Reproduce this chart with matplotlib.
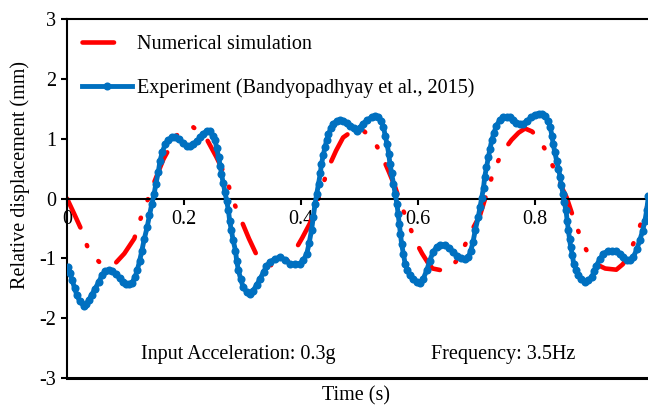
import matplotlib
matplotlib.use("Agg")
import matplotlib.pyplot as plt
from matplotlib.lines import Line2D

plt.rcParams['font.family'] = ['Liberation Serif', 'DejaVu Serif']
plt.rcParams['axes.unicode_minus'] = False
plt.rcParams['lines.scale_dashes'] = False

# Numerical simulation (s, mm)
time_num = [0.000, 0.012, 0.025, 0.035, 0.045, 0.055, 0.068, 0.082, 0.098, 0.115,
            0.126, 0.138, 0.149, 0.165, 0.187, 0.202, 0.216, 0.228, 0.239, 0.255,
            0.271, 0.277, 0.287, 0.299, 0.311, 0.323, 0.340, 0.355, 0.371, 0.389,
            0.402, 0.415, 0.431, 0.447, 0.460, 0.472, 0.488, 0.505, 0.524, 0.538,
            0.550, 0.561, 0.571, 0.583, 0.595, 0.607, 0.618, 0.625, 0.640, 0.655,
            0.665, 0.675, 0.686, 0.706, 0.718, 0.730, 0.744, 0.760, 0.772, 0.783,
            0.795, 0.808, 0.823, 0.836, 0.845, 0.854, 0.868, 0.880, 0.893, 0.905,
            0.920, 0.939, 0.950, 0.960, 0.972, 0.985, 1.000]
disp_num = [0.00, -0.25, -0.53, -0.81, -0.96, -1.06, -1.12, -1.09, -0.92, -0.67,
            -0.33, -0.02, 0.27, 0.66, 1.05, 1.17, 1.19, 1.10, 0.99, 0.70,
            0.38, 0.19, -0.11, -0.39, -0.67, -0.92, -1.08, -1.14, -1.13, -0.88,
            -0.66, -0.42, 0.03, 0.52, 0.80, 1.02, 1.13, 1.15, 0.98, 0.72,
            0.45, 0.19, -0.11, -0.40, -0.70, -0.92, -1.09, -1.17, -1.20, -1.17,
            -1.05, -0.91, -0.64, -0.28, 0.10, 0.48, 0.77, 0.98, 1.10, 1.17,
            1.12, 0.98, 0.72, 0.41, 0.20, 0.02, -0.39, -0.70, -0.97, -1.10,
            -1.17, -1.19, -1.10, -0.95, -0.66, -0.31, 0.08]

# Experiment, Bandyopadhyay et al. (2015) (s, mm)
time_exp = [0.002, 0.005, 0.009, 0.013, 0.017, 0.022, 0.029, 0.033, 0.037, 0.042,
            0.048, 0.054, 0.060, 0.065, 0.071, 0.077, 0.083, 0.090, 0.095, 0.100,
            0.106, 0.111, 0.116, 0.120, 0.124, 0.128, 0.132, 0.137, 0.141, 0.145,
            0.149, 0.152, 0.156, 0.159, 0.163, 0.168, 0.173, 0.179, 0.185, 0.191,
            0.198, 0.205, 0.210, 0.216, 0.222, 0.228, 0.233, 0.239, 0.244, 0.249,
            0.253, 0.256, 0.259, 0.262, 0.264, 0.267, 0.270, 0.273, 0.276, 0.278,
            0.281, 0.284, 0.288, 0.290, 0.293, 0.297, 0.301, 0.307, 0.313, 0.318,
            0.324, 0.330, 0.336, 0.341, 0.347, 0.355, 0.364, 0.372, 0.381, 0.390,
            0.398, 0.404, 0.410, 0.414, 0.418, 0.421, 0.424, 0.427, 0.430, 0.433,
            0.435, 0.438, 0.441, 0.444, 0.447, 0.451, 0.455, 0.461, 0.467, 0.472,
            0.478, 0.484, 0.490, 0.495, 0.500, 0.506, 0.513, 0.521, 0.527, 0.532,
            0.537, 0.541, 0.544, 0.547, 0.550, 0.552, 0.555, 0.558, 0.561, 0.564,
            0.566, 0.568, 0.570, 0.572, 0.575, 0.578, 0.582, 0.586, 0.592, 0.598,
            0.603, 0.609, 0.615, 0.620, 0.626, 0.632, 0.638, 0.646, 0.653, 0.660,
            0.667, 0.674, 0.680, 0.686, 0.690, 0.694, 0.698, 0.703, 0.706, 0.709,
            0.712, 0.714, 0.717, 0.720, 0.723, 0.726, 0.730, 0.734, 0.740, 0.746,
            0.752, 0.757, 0.762, 0.768, 0.774, 0.780, 0.787, 0.794, 0.800, 0.806,
            0.812, 0.817, 0.822, 0.826, 0.829, 0.831, 0.834, 0.837, 0.840, 0.843,
            0.845, 0.848, 0.850, 0.853, 0.855, 0.857, 0.859, 0.861, 0.864, 0.866,
            0.870, 0.874, 0.879, 0.885, 0.891, 0.897, 0.901, 0.905, 0.911, 0.917,
            0.924, 0.931, 0.938, 0.945, 0.951, 0.957, 0.962, 0.968, 0.974, 0.979,
            0.984, 0.988, 0.991, 0.994]
disp_exp = [-1.14, -1.25, -1.37, -1.50, -1.62, -1.72, -1.80, -1.77, -1.70, -1.61,
            -1.51, -1.40, -1.28, -1.22, -1.19, -1.21, -1.26, -1.33, -1.39, -1.43,
            -1.43, -1.41, -1.32, -1.20, -1.05, -0.87, -0.68, -0.48, -0.28, -0.09,
            0.08, 0.25, 0.44, 0.63, 0.78, 0.91, 0.98, 1.02, 1.02, 1.00,
            0.93, 0.88, 0.88, 0.91, 0.96, 1.02, 1.08, 1.13, 1.12, 1.05,
            0.97, 0.84, 0.69, 0.55, 0.41, 0.26, 0.11, -0.05, -0.20, -0.37,
            -0.53, -0.70, -0.87, -1.04, -1.20, -1.35, -1.48, -1.56, -1.60, -1.54,
            -1.45, -1.34, -1.23, -1.13, -1.06, -1.01, -0.98, -1.02, -1.09, -1.10,
            -1.09, -1.03, -0.92, -0.74, -0.53, -0.31, -0.09, 0.08, 0.25, 0.42,
            0.58, 0.72, 0.86, 0.98, 1.08, 1.17, 1.25, 1.29, 1.31, 1.30,
            1.26, 1.22, 1.17, 1.13, 1.18, 1.25, 1.31, 1.36, 1.38, 1.37,
            1.30, 1.19, 1.05, 0.91, 0.75, 0.58, 0.42, 0.25, 0.08, -0.09,
            -0.26, -0.42, -0.59, -0.76, -0.93, -1.09, -1.20, -1.28, -1.35, -1.39,
            -1.41, -1.34, -1.20, -1.04, -0.89, -0.81, -0.78, -0.77, -0.82, -0.89,
            -0.96, -1.00, -1.01, -0.98, -0.88, -0.73, -0.52, -0.31, -0.15, 0.01,
            0.18, 0.36, 0.52, 0.69, 0.83, 0.97, 1.10, 1.22, 1.31, 1.36,
            1.37, 1.36, 1.31, 1.26, 1.24, 1.25, 1.30, 1.36, 1.40, 1.42,
            1.41, 1.38, 1.30, 1.19, 1.05, 0.91, 0.77, 0.63, 0.50, 0.36,
            0.22, 0.08, -0.06, -0.20, -0.37, -0.53, -0.67, -0.81, -0.95, -1.09,
            -1.19, -1.28, -1.35, -1.39, -1.37, -1.31, -1.22, -1.12, -1.01, -0.92,
            -0.88, -0.87, -0.88, -0.92, -0.98, -1.03, -1.02, -0.98, -0.85, -0.70,
            -0.54, -0.37, -0.19, 0.05]

xtick_vals = [0, 0.2, 0.4, 0.6, 0.8]
xtick_labels = ['0', '0.2', '0.4', '0.6', '0.8']
ytick_vals = [-3, -2, -1, 0, 1, 2, 3]

red = '#FF0000'
blue = '#0070C0'
fs = 14.5

fig = plt.figure(figsize=(6.48, 4.08), dpi=100)
ax = fig.add_axes([67 / 648, 1 - 378 / 408, 585 / 648, 359 / 408])

# long dash - dot - dot pattern (points)
ax.plot(time_num, disp_num, color=red, lw=3.3, dashes=(23, 13.5, 0.8, 13.5, 0.8, 13.5),
        dash_capstyle='round', solid_capstyle='round', zorder=2)
ax.plot(time_exp, disp_exp, color=blue, lw=3.5, marker='o', ms=5.8,
        markeredgewidth=0, zorder=3)

ax.set_xlim(0, 1)
ax.set_ylim(-3, 3)

# x axis runs through zero, frame closed with lines at -3 and 3
ax.spines['bottom'].set_position(('data', 0))
ax.spines['right'].set_visible(False)
for s in ['left', 'bottom', 'top']:
    ax.spines[s].set_linewidth(1.5)
ax.axhline(-3, color='k', lw=2.2, clip_on=False, zorder=4)

ax.set_xticks(xtick_vals)
ax.set_xticklabels(xtick_labels)
ax.set_yticks(ytick_vals)
ax.tick_params(axis='both', direction='out', length=4, width=1.5,
               labelsize=fs, pad=4)

fig.text(20 / 648, 1 - 175 / 408, 'Relative displacement (mm)', rotation=90,
         ha='center', va='center', fontsize=fs)
fig.text(356 / 648, 1 - 396 / 408, 'Time (s)', ha='center', va='center', fontsize=fs)
fig.text(141 / 648, 1 - 355 / 408, 'Input Acceleration: 0.3g', ha='left',
         va='center', fontsize=fs)
fig.text(431 / 648, 1 - 355 / 408, 'Frequency: 3.5Hz', ha='left',
         va='center', fontsize=fs)

handles = [Line2D([], [], color=red, lw=3.3, dashes=(22.7, 300),
                  dash_capstyle='round'),
           Line2D([], [], color=blue, lw=3.5, marker='o', ms=5.8,
                  markeredgewidth=0)]
labels = ['Numerical simulation', 'Experiment (Bandyopadhyay et al., 2015)']
ax.legend(handles, labels, loc='upper left',
          bbox_to_anchor=(82 / 648, 1 - 35 / 408), bbox_transform=fig.transFigure,
          frameon=False, fontsize=fs, borderpad=0, borderaxespad=0,
          handlelength=2.48, handletextpad=0.25, labelspacing=1.18, numpoints=1)

fig.savefig('out.png', dpi=100)
